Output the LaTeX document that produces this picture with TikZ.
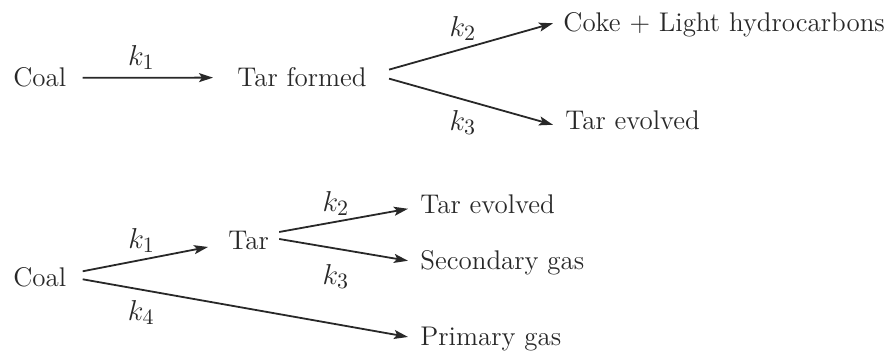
\documentclass[tikz,border=0pt]{standalone}
\usepackage{tikz}
\usetikzlibrary{arrows.meta}
\definecolor{inkGray}{RGB}{40,40,40}

\begin{document}
\begin{tikzpicture}[
  x=0.5pt, y=-0.5pt,
  lbl/.style={inner sep=0pt, anchor=base west, text=inkGray,
              font=\fontsize{13.5}{16}\selectfont},
  rate/.style={inner sep=0pt, text=inkGray,
               font=\fontsize{15.5}{18}\selectfont},
  arr/.style={-{Stealth[length=7pt,width=4.5pt,inset=1.5pt]},
              line width=0.9pt, inkGray}
]
  \useasboundingbox (0,0) rectangle (886,352);
  % first scheme
  \node[lbl] (coalA) at (13,87) {Coal};
  \node[lbl] (tarF) at (237,87) {Tar formed};
  \node[lbl] (coke) at (563,32) {Coke + Light hydrocarbons};
  \node[lbl] (tarEvA) at (565,130) {Tar evolved};
  \draw[arr] ([xshift=8pt]coalA.east) -- ([xshift=-12pt]tarF.west)
    node[rate, pos=.45, above=3.5pt] {$k_1$};
  \draw[arr] ([xshift=11pt,yshift=4pt]tarF.east) -- ([xshift=-5pt,yshift=1pt]coke.west)
    node[rate, pos=.45, above=3.5pt] {$k_2$};
  \draw[arr] ([xshift=11pt,yshift=-0.5pt]tarF.east) -- ([xshift=-6pt,yshift=-2pt]tarEvA.west)
    node[rate, pos=.45, below=5pt] {$k_3$};
  % second scheme
  \node[lbl] (coalB) at (13,286) {Coal};
  \node[lbl] (tar) at (228,249) {Tar};
  \node[lbl] (tarEvB) at (420,213) {Tar evolved};
  \node[lbl] (secGas) at (420,269) {Secondary gas};
  \node[lbl] (primGas) at (420,345) {Primary gas};
  \draw[arr] ([xshift=8pt,yshift=2.75pt]coalB.east) -- ([xshift=-10pt,yshift=-3.5pt]tar.west)
    node[rate, pos=.47, above=3pt] {$k_1$};
  \draw[arr] ([xshift=8pt,yshift=-1.25pt]coalB.east) -- ([xshift=-6pt,yshift=0.8pt]primGas.west)
    node[rate, pos=.18, below=5pt] {$k_4$};
  \draw[arr] ([xshift=5pt,yshift=4pt]tar.east) -- ([xshift=-6pt,yshift=-2.5pt]tarEvB.west)
    node[rate, pos=.44, above=2.5pt] {$k_2$};
  \draw[arr] ([xshift=5pt,yshift=0.5pt]tar.east) -- ([xshift=-6pt,yshift=0.75pt]secGas.west)
    node[rate, pos=.44, below=7.5pt] {$k_3$};
\end{tikzpicture}
\end{document}
